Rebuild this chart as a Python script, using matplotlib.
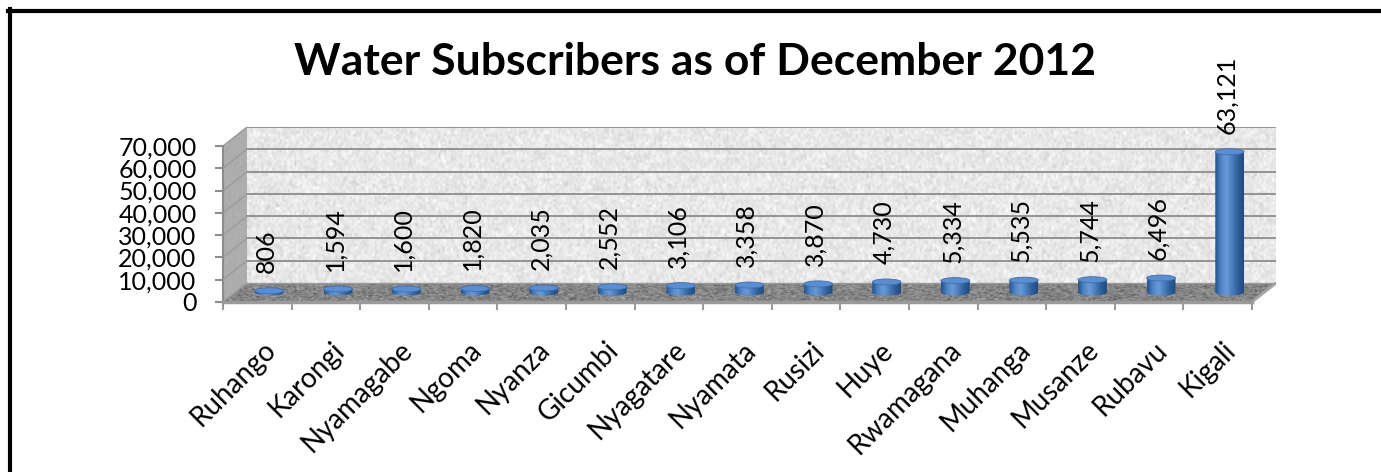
import numpy as np
import matplotlib
matplotlib.use("Agg")
import matplotlib.pyplot as plt
from matplotlib.colors import LinearSegmentedColormap
from matplotlib.lines import Line2D
from matplotlib.patches import Polygon, Ellipse
from matplotlib.ticker import FuncFormatter

plt.rcParams["font.family"] = ["Lato", "DejaVu Sans"]

districts = ["Ruhango", "Karongi", "Nyamagabe", "Ngoma", "Nyanza", "Gicumbi",
             "Nyagatare", "Nyamata", "Rusizi", "Huye", "Rwamagana", "Muhanga",
             "Musanze", "Rubavu", "Kigali"]
subscribers = [806, 1594, 1600, 1820, 2035, 2552, 3106, 3358, 3870, 4730,
               5334, 5535, 5744, 6496, 63121]
y_ticks = [0, 10000, 20000, 30000, 40000, 50000, 60000, 70000]

YMAX = 70000
DX, DY = 0.35, 8500          # depth of the fake 3d box (category units, value units)
R, RY = 0.21, 1350           # cylinder radius and ellipse half-height
n = len(districts)

fig = plt.figure(figsize=(13.81, 4.72), dpi=100)
ax = fig.add_axes([0.16148, 0.36017, 0.76249, 0.37076])
ax.set_xlim(0, n + DX)
ax.set_ylim(0, YMAX + DY)
ax.patch.set_visible(False)

rng = np.random.default_rng(7)


def textured(poly, base, spread, shape=(60, 500)):
    noise = base + spread * rng.standard_normal(shape)
    xs, ys = poly[:, 0], poly[:, 1]
    im = ax.imshow(noise, cmap="gray", vmin=0, vmax=1, aspect="auto",
                   extent=[xs.min(), xs.max(), ys.min(), ys.max()],
                   interpolation="bilinear", zorder=1)
    patch = Polygon(poly, closed=True, fc="none", ec="none")
    ax.add_patch(patch)
    im.set_clip_path(patch)


# back wall, side wall, floor
back = np.array([[DX, DY], [n + DX, DY], [n + DX, YMAX + DY], [DX, YMAX + DY]])
side = np.array([[0, 0], [DX, DY], [DX, YMAX + DY], [0, YMAX]])
floor = np.array([[0, 0], [n, 0], [n + DX, DY], [DX, DY]])
textured(back, 0.91, 0.035)
textured(side, 0.68, 0.04)
textured(floor, 0.52, 0.12)

for v in y_ticks[1:]:
    ax.plot([DX, n + DX], [v + DY, v + DY], color="#8c8c8c", lw=1.3, zorder=2)
    ax.plot([0, DX], [v, v + DY], color="#9a9a9a", lw=1.0, zorder=2)
ax.plot([n, n + DX], [0, DY], color="#a6a6a6", lw=2, zorder=2)
ax.plot([DX, n + DX], [DY, DY], color="#9a9a9a", lw=1, zorder=2)
ax.plot([0, DX], [0, DY], color="#9a9a9a", lw=1, zorder=2)

# cylinders
body_cmap = LinearSegmentedColormap.from_list(
    "cyl", ["#24518a", "#4f84c4", "#6a9ad6", "#4a7dbd", "#2f5f9a", "#214a7e"])
grad = np.linspace(0, 1, 64)[None, :]
theta = np.linspace(np.pi, 2 * np.pi, 40)
for i, v in enumerate(subscribers):
    cx = i + 0.5 + DX / 2
    base = DY / 2
    top = base + v
    outline = np.vstack([
        [[cx - R, top]],
        np.column_stack([cx + R * np.cos(theta), base + RY * np.sin(theta)]),
        [[cx + R, top]],
    ])
    clip = Polygon(outline, closed=True, fc="none", ec="none")
    ax.add_patch(clip)
    im = ax.imshow(grad, cmap=body_cmap, aspect="auto",
                   extent=[cx - R, cx + R, base - RY, top],
                   interpolation="bilinear", zorder=3)
    im.set_clip_path(clip)
    ax.add_patch(Ellipse((cx, top), 2 * R, 2 * RY, fc="#5b8ed0",
                         ec="#3f6fae", lw=0.6, zorder=4))
    ax.annotate(f"{v:,}", (cx, top + RY), xytext=(-3, 15),
                textcoords="offset pixels", rotation=90, ha="center",
                va="bottom", fontsize=18, annotation_clip=False, zorder=5)

ax.set_xlim(0, n + DX)
ax.set_ylim(0, YMAX + DY)

# axes: front edge of side wall and floor
for s in ("top", "right"):
    ax.spines[s].set_visible(False)
ax.spines["left"].set_bounds(0, YMAX)
ax.spines["left"].set_color("#8c8c8c")
ax.spines["left"].set_linewidth(1.5)
ax.spines["bottom"].set_bounds(0, n)
ax.spines["bottom"].set_color("#9a9a9a")
ax.spines["bottom"].set_linewidth(2.5)

ax.set_yticks(y_ticks)
ax.yaxis.set_major_formatter(FuncFormatter(lambda v, p: f"{int(v):,}"))
ax.tick_params(axis="y", length=6, width=1.5, color="#8c8c8c", pad=13,
               labelsize=18)

ax.set_xticks(np.arange(n) + 0.57)
ax.set_xticklabels(districts, rotation=45, ha="right", rotation_mode="anchor",
                   fontsize=20)
ax.set_xticks(np.arange(n + 1), minor=True)
ax.tick_params(axis="x", which="major", length=0, pad=25)
ax.tick_params(axis="x", which="minor", length=6, width=1.5, color="#9a9a9a")

fig.text(0.503, 0.841, "Water Subscribers as of December 2012", ha="center",
         va="baseline", fontsize=32, fontweight="bold")

# frame lines along the top and left edges
fig.add_artist(Line2D([8 / 1381, 1], [1 - 10.5 / 472, 1 - 10.5 / 472],
                      color="black", lw=3))
fig.add_artist(Line2D([10 / 1381, 10 / 1381], [0, 1 - 9 / 472],
                      color="black", lw=3))

fig.savefig("out.png", dpi=100)
